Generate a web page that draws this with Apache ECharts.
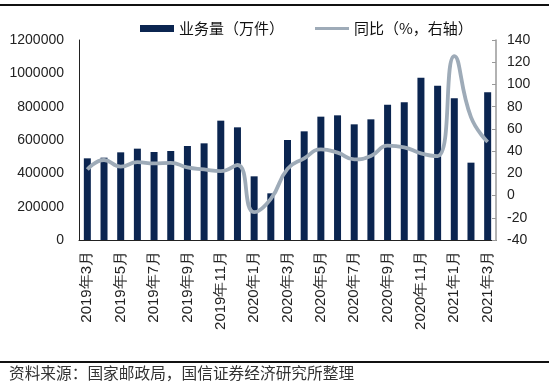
<!DOCTYPE html>
<html>
<head>
<meta charset="utf-8">
<script src="https://cdn.jsdelivr.net/npm/echarts@6/dist/echarts.min.js"></script>
<style>html,body{margin:0;padding:0;background:#fff;}#c{width:549px;height:388px;}</style>
</head>
<body>
<div id="c"></div>
<script>
var categories = ['2019年3月','2019年4月','2019年5月','2019年6月','2019年7月','2019年8月','2019年9月','2019年10月','2019年11月','2019年12月',
  '2020年1月','2020年2月','2020年3月','2020年4月','2020年5月','2020年6月','2020年7月','2020年8月','2020年9月','2020年10月','2020年11月','2020年12月',
  '2021年1月','2021年2月','2021年3月'];
var volume = [490000,494000,526000,548000,528000,534000,564000,580000,716000,676000,
  382000,280000,600000,652000,740000,748000,694000,724000,812000,826000,974000,926000,
  850000,464000,886000];
var yoy = [23.5,32,26,30,29,29.5,25.3,23.5,22,27.5,
  -15,-3,24,33.5,41.5,38.6,32.6,35.6,44.9,43.4,38,35.5,
  125.5,70.6,48.2];
var leftTicks = [0,200000,400000,600000,800000,1000000,1200000];
var rightTicks = [-40,-20,0,20,40,60,80,100,120,140];

var chart = echarts.init(document.getElementById('c'));
var legendText = { fontSize: 15, color: '#111', fontFamily: 'Noto Sans CJK SC' };
chart.setOption({
  animation: false,
  backgroundColor: '#fff',
  textStyle: { fontFamily: 'Liberation Sans, Arial, sans-serif' },
  legend: [
    {
      left: 135, top: 16,
      itemWidth: 34, itemHeight: 7,
      textStyle: legendText,
      data: [{ name: '业务量（万件）', icon: 'rect' }]
    },
    {
      left: 310, top: 16,
      itemWidth: 34, itemHeight: 3,
      textStyle: legendText,
      data: [{ name: '同比（%，右轴）', icon: 'rect' }]
    }
  ],
  grid: { left: 79, right: 53, top: 40, bottom: 148 },
  xAxis: {
    type: 'category',
    data: categories,
    boundaryGap: true,
    axisLine: { lineStyle: { color: '#222', width: 1 } },
    axisTick: { interval: 1, length: 5, lineStyle: { color: '#222' } },
    axisLabel: { interval: 1, rotate: 90, fontSize: 15, color: '#222', margin: 11,
      fontFamily: 'Liberation Sans, Arial, sans-serif' }
  },
  yAxis: [
    {
      type: 'value', min: leftTicks[0], max: leftTicks[leftTicks.length-1], interval: 200000,
      axisLine: { show: true, lineStyle: { color: '#222' } },
      axisTick: { show: false },
      splitLine: { show: false },
      axisLabel: { fontSize: 14, color: '#222', margin: 15, formatter: function (v) { return String(v); } }
    },
    {
      type: 'value', min: rightTicks[0], max: rightTicks[rightTicks.length-1], interval: 20,
      position: 'right',
      axisLine: { show: true, lineStyle: { color: '#999', width: 1.5 } },
      axisTick: { show: true, inside: true, length: 4, lineStyle: { color: '#999' } },
      splitLine: { show: false },
      axisLabel: { fontSize: 14, color: '#222', margin: 11 }
    }
  ],
  series: [
    {
      name: '业务量（万件）', type: 'bar', data: volume, yAxisIndex: 0,
      barWidth: 7,
      itemStyle: { color: '#0b2550' }
    },
    {
      name: '同比（%，右轴）', type: 'line', data: yoy, yAxisIndex: 1,
      smooth: true, symbol: 'none',
      lineStyle: { color: '#9eabb8', width: 3.8 },
      itemStyle: { color: '#9eabb8' }
    }
  ],
  graphic: [
    { type: 'rect', shape: { x: 0, y: 4, width: 549, height: 2 }, style: { fill: '#111' } },
    { type: 'rect', shape: { x: 0, y: 361, width: 549, height: 2 }, style: { fill: '#111' } },
    { type: 'text', left: 9, top: 365, style: { text: '资料来源：国家邮政局，国信证券经济研究所整理', fontSize: 15.7, fill: '#333', fontFamily: 'Noto Sans CJK SC' } }
  ]
});
</script>
</body>
</html>
